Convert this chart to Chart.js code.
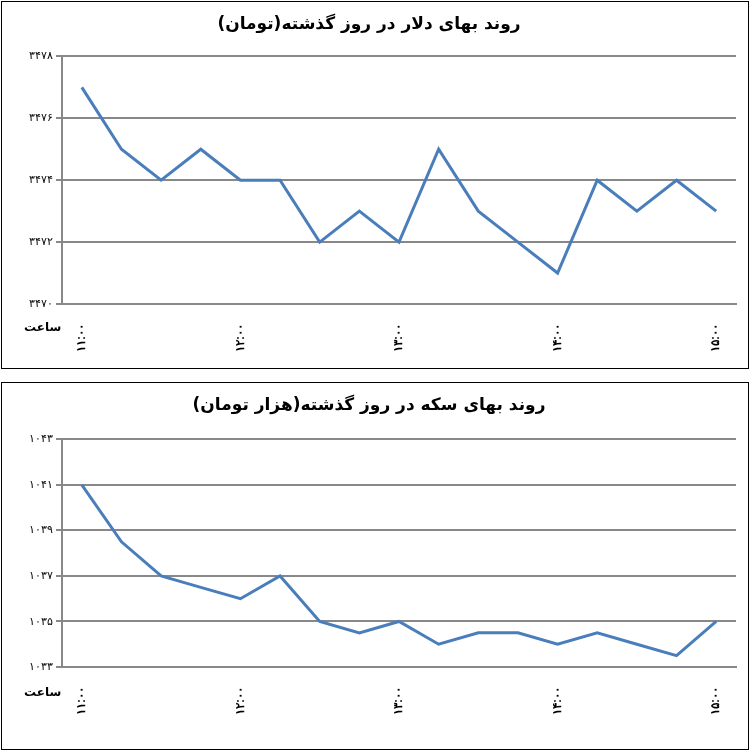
<!DOCTYPE html>
<html><head><meta charset="utf-8">
<script src="https://cdn.jsdelivr.net/npm/chart.js@4"></script>
<style>
body{margin:0;background:#fff;font-family:"DejaVu Sans",sans-serif}
.box{position:absolute;left:1px;width:746px;border:1px solid #000;background:#fff}
.box canvas{position:absolute;left:0;top:0}
.saat{position:absolute;left:22px;font-size:12px;font-weight:bold}
</style></head><body>
<div class="box" style="top:1px;height:366px"><canvas id="c1"></canvas><div class="saat" style="top:318px">ساعت</div></div>
<div class="box" style="top:382px;height:366px"><canvas id="c2"></canvas><div class="saat" style="top:302px">ساعت</div></div>
<script>
/* ---- data ---------------------------------------------------------------- */
const hours = ['۱۱:۰۰','','','','۱۲:۰۰','','','','۱۳:۰۰','','','','۱۴:۰۰','','','','۱۵:۰۰'];
const dollar = [3477,3475,3474,3475,3474,3474,3472,3473,3472,3475,3473,3472,3471,3474,3473,3474,3473];
const coin   = [1041,1038.5,1037,1036.5,1036,1037,1035,1034.5,1035,1034,1034.5,1034.5,1034,1034.5,1034,1033.5,1035];
const title1 = 'روند بهای دلار در روز گذشته(تومان)';
const title2 = 'روند بهای سکه در روز گذشته(هزار تومان)';

const fa = n => String(n).replace(/\d/g, d => '۰۱۲۳۴۵۶۷۸۹'[d]);

function build(id, title, data, min, max, xh, tpad) {
  const cv = document.getElementById(id);
  cv.width = 746; cv.height = 366;
  new Chart(cv, {
    type: 'line',
    data: { labels: hours, datasets: [{ data, borderColor: '#4a7ebb', borderWidth: 3, pointRadius: 0, tension: 0 }] },
    options: {
      responsive: false, animation: false,
      layout: { padding: { left: 0, right: 12, top: 8, bottom: 0 } },
      plugins: {
        legend: { display: false },
        title: { display: true, text: title, color: '#000', font: { size: 17, weight: 'bold', family: 'DejaVu Sans' }, padding: { top: 4, bottom: tpad } }
      },
      scales: {
        x: {
          offset: true,
          afterFit: s => { s.height = xh; },
          grid: { display: false },
          border: { color: '#888', width: 2 },
          ticks: { autoSkip: false, maxRotation: 90, minRotation: 90, padding: 12, color: '#000', font: { size: 12, weight: 'bold' } }
        },
        y: {
          min, max,
          afterFit: s => { s.width = 60; },
          ticks: { stepSize: 2, color: '#000', font: { size: 11 }, callback: v => fa(v) },
          grid: { color: '#888', lineWidth: 2, tickLength: 6 },
          border: { color: '#888', width: 2 }
        }
      }
    }
  });
}
build('c1', title1, dollar, 3470, 3478, 64, 22);
build('c2', title2, coin, 1033, 1043, 82, 24);
</script></body></html>
